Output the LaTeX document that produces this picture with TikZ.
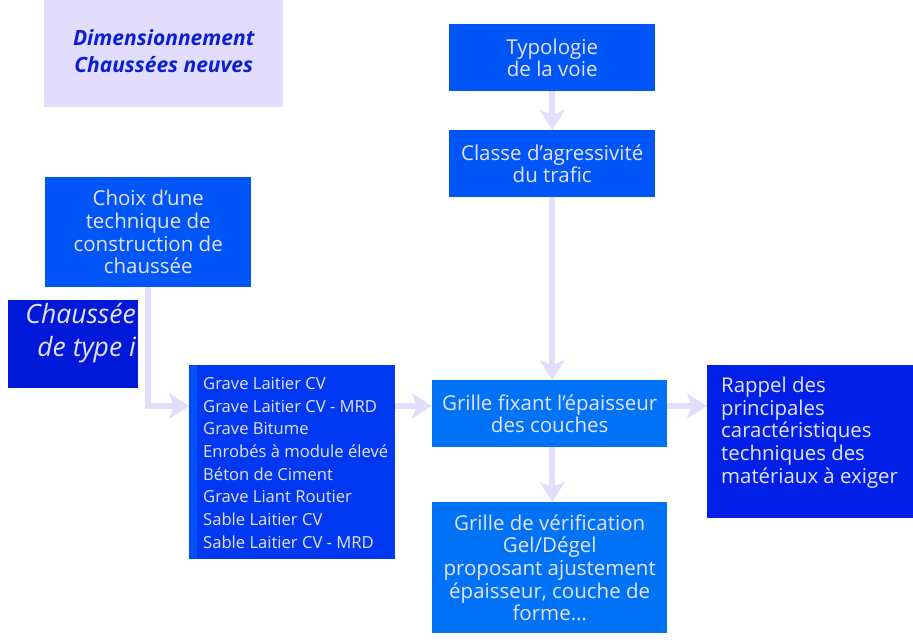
\documentclass[tikz,border=0pt]{standalone}
\usepackage{fontspec}
\setmainfont{Open Sans}
\usetikzlibrary{arrows.meta}
\definecolor{lav}{HTML}{E2DDFC}
\definecolor{txt}{HTML}{E6E2FF}
\definecolor{titletxt}{HTML}{0A1ED8}
\definecolor{bmid}{HTML}{0055F7}
\definecolor{blist}{HTML}{0038F2}
\definecolor{bstripe}{HTML}{0050F8}
\definecolor{blight}{HTML}{0072F5}
\definecolor{brappel}{HTML}{0020E8}
\definecolor{btype}{HTML}{0018D8}
\tikzset{
  box/.style={rectangle, inner sep=0pt, anchor=north west, text=txt, align=center,
    font=\fontsize{20.5}{22.7}\selectfont},
  arr/.style={draw=lav, line width=6pt, -{Stealth[length=20pt,width=25pt,inset=5pt]}},
}
\begin{document}
\begin{tikzpicture}[x=1pt,y=-1pt]
\useasboundingbox (0,0) rectangle (913,642);
\node[box, fill=lav, minimum width=239pt, minimum height=107pt] (title) at (44,0) {};
\node[inner sep=0pt, text=titletxt, align=center,
  font=\fontsize{21}{27}\selectfont\bfseries\itshape] (titletext) at ([yshift=3pt]title.center)
  {Dimensionnement\\Chaussées neuves};
\node[box, fill=bmid, minimum width=206pt, minimum height=67pt] (typo) at (449,24)
  {Typologie\\de la voie};
\node[box, fill=bmid, minimum width=206pt, minimum height=67pt] (classe) at (449,130)
  {Classe d’agressivité\\du trafic};
\node[box, fill=bmid, minimum width=206pt, minimum height=110pt] (choix) at (45,177)
  {Choix d’une\\technique de\\construction de\\chaussée};
\node[box, fill=btype, minimum width=130pt, minimum height=88pt] (type) at (8,300) {};
\node[anchor=north east, inner sep=0pt, text=txt, align=right,
  font=\fontsize{26.5}{32.5}\selectfont\itshape] (typetxt) at (136,303) {Chaussée\\de type i};
\node[box, fill=blist, minimum width=206pt, minimum height=194pt,
  path picture={\fill[bstripe] (path picture bounding box.south west) rectangle ([xshift=8pt]path picture bounding box.north west);}] (list) at (189,365) {};
\node[anchor=north west, inner sep=0pt, text=txt, align=left,
  font=\fontsize{16.6}{22.67}\selectfont] (listtxt) at (203,377)
  {Grave Laitier CV\\Grave Laitier CV - MRD\\Grave Bitume\\Enrobés à module élevé\\Béton de Ciment\\Grave Liant Routier\\Sable Laitier CV\\Sable Laitier CV - MRD};
\node[box, fill=blight, minimum width=235pt, minimum height=67pt] (grille) at (432,380)
  {Grille fixant l’épaisseur\\des couches};
\node[box, fill=brappel, minimum width=206pt, minimum height=153pt] (rappel) at (707,365) {};
\node[anchor=north west, inner sep=0pt, text=txt, align=left,
  font=\fontsize{20.4}{22.6}\selectfont] (rappeltxt) at (721,377)
  {Rappel des\\principales\\caractéristiques\\techniques des\\matériaux à exiger};
\node[box, fill=blight, minimum width=235pt, minimum height=131pt] (verif) at (432,502)
  {Grille de vérification\\Gel/Dégel\\proposant ajustement\\épaisseur, couche de\\forme…};
\coordinate (ah) at (0,406);
\draw[arr] (typo.south) -- (classe.north);
\draw[arr] (classe.south) -- (classe.south |- grille.north);
\draw[arr] (grille.south -| classe.south) -- (verif.north -| classe.south);
\draw[arr] (list.east |- ah) -- (grille.west |- ah);
\draw[arr] (grille.east |- ah) -- (rappel.west |- ah);
\draw[arr] (choix.south) |- (list.west |- ah);
\end{tikzpicture}
\end{document}
